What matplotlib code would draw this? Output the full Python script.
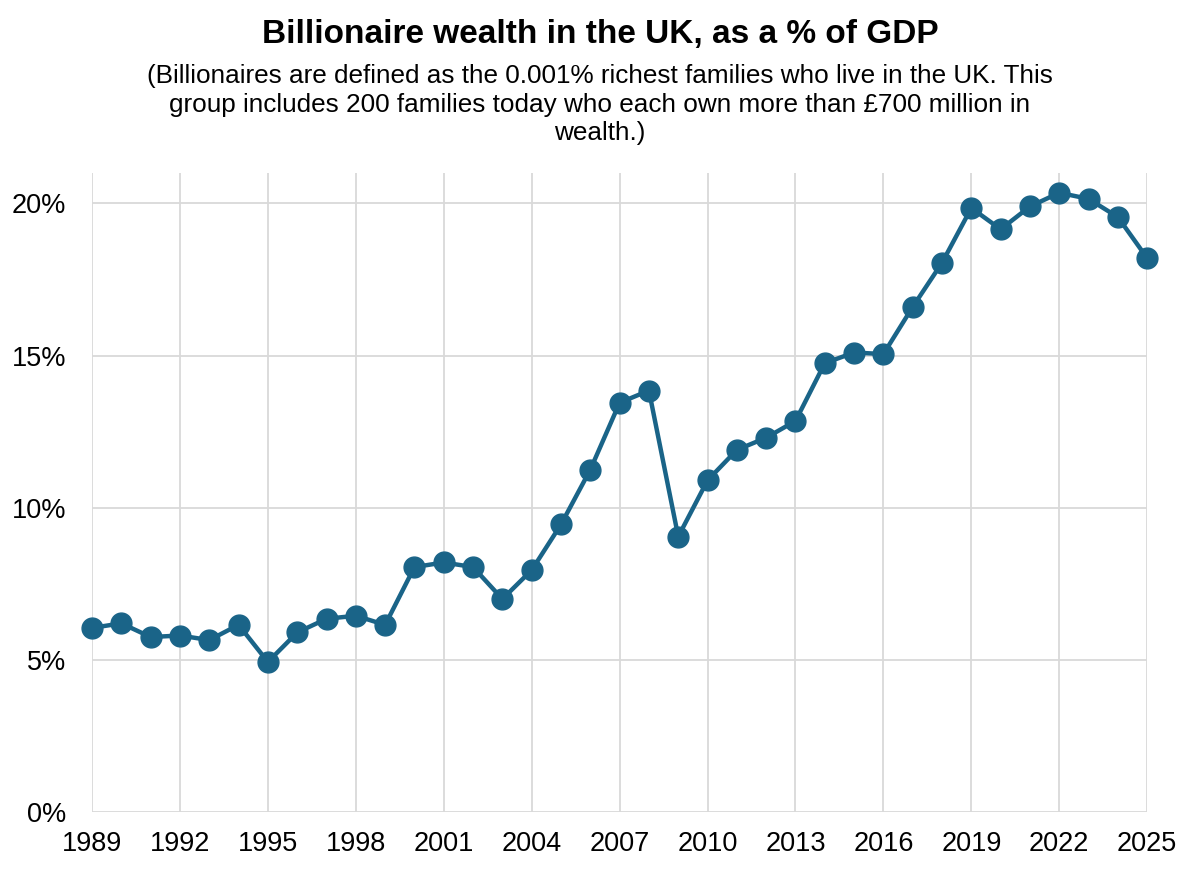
import numpy as np
import matplotlib.pyplot as plt
from matplotlib.ticker import FuncFormatter

plt.rcParams['font.family'] = ['Liberation Sans', 'DejaVu Sans']

# Data
years = list(range(1989, 2026))
wealth_pct = [6.05, 6.2, 5.75, 5.8, 5.65, 6.15, 4.93, 5.9, 6.35, 6.45, 6.15,
              8.05, 8.2, 8.05, 7.0, 7.95, 9.45, 11.25, 13.45, 13.85, 9.05,
              10.9, 11.9, 12.3, 12.85, 14.75, 15.1, 15.05, 16.6, 18.05, 19.85,
              19.15, 19.9, 20.35, 20.15, 19.55, 18.2]
xticks = list(range(1989, 2026, 3))
yticks = [0, 5, 10, 15, 20]

title = 'Billionaire wealth in the UK, as a % of GDP'
subtitle = ('(Billionaires are defined as the 0.001% richest families who live in the UK. This\n'
            'group includes 200 families today who each own more than £700 million in\n'
            'wealth.)')

fig = plt.figure(figsize=(12, 8.72), dpi=100)
ax = fig.add_axes([0.0767, 0.0688, 0.8793, 0.7328])

ax.plot(years, wealth_pct, color='#1a6488', linewidth=3.2, marker='o',
        markersize=15, zorder=3, clip_on=False)

ax.set_xlim(1989, 2025)
ax.set_ylim(0, 21)
ax.set_xticks(xticks)
ax.set_yticks(yticks)
ax.yaxis.set_major_formatter(FuncFormatter(lambda v, p: f'{v:.0f}%'))
ax.grid(True, color='#d9d9d9', linewidth=1.3)
ax.set_axisbelow(True)
for s in ax.spines.values():
    s.set_visible(False)
ax.tick_params(length=0, labelsize=19.5)
ax.tick_params(axis='x', pad=14)
ax.tick_params(axis='y', pad=18.5)

fig.text(0.5, 0.961, title, ha='center', va='center', fontsize=24, fontweight='bold')
fig.text(0.5, 0.880, subtitle, ha='center', va='center', fontsize=18.8, linespacing=1.22)

fig.savefig('out.png', dpi=100)
